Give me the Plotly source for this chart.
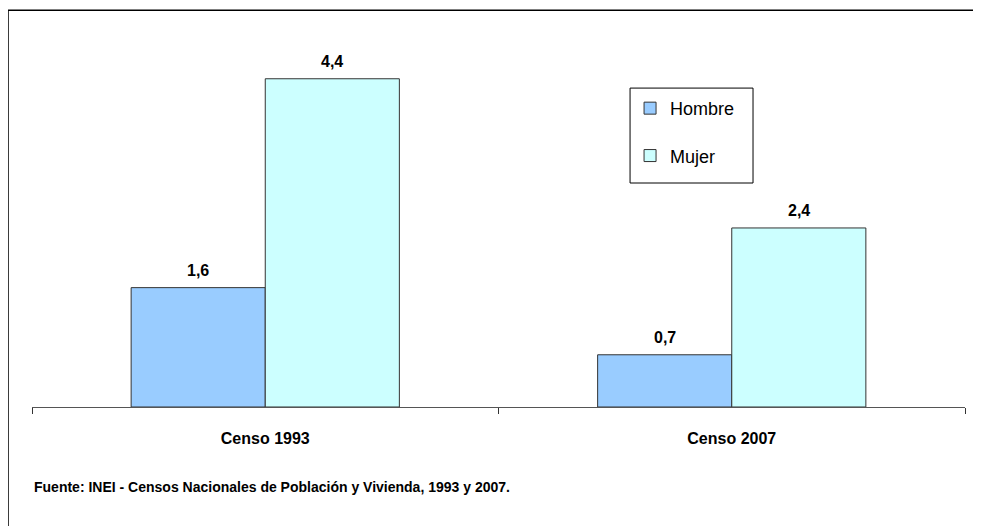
import plotly.graph_objects as go

censos = ["Censo 1993", "Censo 2007"]
hombre = [1.6, 0.7]
mujer = [4.4, 2.4]
fuente = "Fuente: INEI - Censos Nacionales de Población y Vivienda, 1993 y 2007."

font_main = "Liberation Sans, Arial"

fig = go.Figure()

fig.add_trace(go.Bar(
    name="Hombre", x=censos, y=hombre,
    marker=dict(color="#99CCFF", line=dict(color="#333333", width=1)),
    legendgroup="h", hoverinfo="none",
))
fig.add_trace(go.Bar(
    name="Mujer", x=censos, y=mujer,
    marker=dict(color="#CCFFFF", line=dict(color="#333333", width=1)),
    legendgroup="m", hoverinfo="none",
))

# value labels above bars (comma decimal)
annotations = []
for shift, values in [(-67, hombre), (67, mujer)]:
    for c, v in zip(censos, values):
        annotations.append(dict(
            x=c, y=v, xref="x", yref="y", xshift=shift, yshift=17,
            text="<b>%s</b>" % ("%.1f" % v).replace(".", ","),
            showarrow=False, font=dict(size=16), yanchor="middle",
        ))

annotations.append(dict(
    text="<b>" + fuente + "</b>", xref="paper", yref="paper",
    x=0.0, y=-0.215, xanchor="left", yanchor="middle",
    showarrow=False, font=dict(size=14),
))

fig.update_layout(
    width=973, height=518,
    margin=dict(l=24, r=16, t=26, b=119),
    paper_bgcolor="white", plot_bgcolor="white",
    barmode="group", bargap=0.425, bargroupgap=0,
    font=dict(family=font_main, size=14, color="black"),
    showlegend=True,
    legend=dict(
        x=0.641, y=0.85, xanchor="left", yanchor="top",
        borderwidth=0, bgcolor="rgba(0,0,0,0)",
        font=dict(size=18), tracegroupgap=21,
        itemwidth=30,
    ),
    annotations=annotations,
    shapes=[
        # outer frame: only left and top edges visible in the original
        dict(type="line", xref="paper", yref="paper",
             x0=-0.0257, y0=-0.35, x1=-0.0257, y1=1.064,
             line=dict(color="black", width=1.5)),
        dict(type="line", xref="paper", yref="paper",
             x0=-0.0257, y0=1.064, x1=1.1, y1=1.064,
             line=dict(color="black", width=1.5)),
        # legend box
        dict(type="rect", xref="paper", yref="paper",
             x0=0.641, y0=0.6005, x1=0.7728, y1=0.855,
             line=dict(color="black", width=1)),
    ],
)

fig.update_xaxes(
    showline=True, linecolor="#555555", linewidth=1,
    ticks="outside", tickson="boundaries", ticklen=6, tickcolor="#333333",
    tickfont=dict(size=16), ticklabelstandoff=17,
    tickprefix="<b>", ticksuffix="</b>",
)
fig.update_yaxes(visible=False, range=[0, 5], showgrid=False)

fig.write_html("out.html")
